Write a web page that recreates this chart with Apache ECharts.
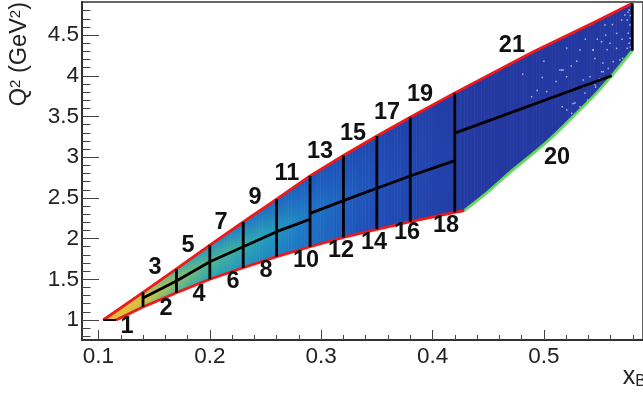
<!DOCTYPE html>
<html><head><meta charset="utf-8">
<style>html,body{margin:0;padding:0;background:#fff;overflow:hidden}#c{width:643px;height:394px}</style>
<script src="https://cdn.jsdelivr.net/npm/echarts@6/dist/echarts.min.js"></script>
</head><body><div id="c"></div>
<script>
const xMajor=[0.1,0.2,0.3,0.4,0.5];
const xMinor=[0.12,0.14,0.16,0.18,0.22,0.24,0.26,0.28,0.32,0.34,0.36,0.38,0.42,0.44,0.46,0.48,0.52,0.54,0.56,0.58];
const yMajor=[1,1.5,2,2.5,3,3.5,4,4.5];
const yMinor=[0.8,0.9,1.1,1.2,1.3,1.4,1.6,1.7,1.8,1.9,2.1,2.2,2.3,2.4,2.6,2.7,2.8,2.9,3.1,3.2,3.3,3.4,3.6,3.7,3.8,3.9,4.1,4.2,4.3,4.4,4.6,4.7,4.8];

// filled acceptance region: column positions, edges, and relative density at low / middle / high edge
const colX   =[0.1043,0.1158,0.14,0.17,0.2,0.23,0.26,0.29,0.32,0.35,0.38,0.42,0.4285,0.4501,0.4711,0.4905,0.501,0.5219,0.5429,0.5609,0.5794];
const colLow =[1,1,1.16,1.335,1.5,1.642,1.778,1.9,2.016,2.114,2.208,2.323,2.343,2.578,2.832,3.05,3.168,3.442,3.726,4.0,4.308];
const colHigh=[1,1.11,1.34,1.627,1.92,2.204,2.486,2.77,3.02,3.26,3.49,3.79,3.85,4.006,4.157,4.296,4.366,4.504,4.642,4.76,4.89];
const densLow=[0.95,0.92,0.74,0.55,0.42,0.36,0.3,0.23,0.16,0.11,0.07,0.03,0.01,0,0,0,0,0,0,0,0];
const densMid=[0.95,0.96,0.92,0.72,0.58,0.48,0.37,0.26,0.18,0.12,0.08,0.04,0.01,0,0,0,0,0,0,0,0];
const densHigh=[0.95,0.92,0.74,0.5,0.35,0.26,0.19,0.15,0.11,0.08,0.05,0.02,0.01,0,0,0,0,0,0,0,0];
const palette=[[0,'#2338a0'],[0.12,'#1f4fb8'],[0.27,'#1e79c8'],[0.42,'#26a3b8'],[0.58,'#50b78f'],[0.74,'#a6bf5c'],[0.9,'#e0c23e'],[1,'#eeb834']];

// empty bins at low statistics
const emptyBins=[[0.5766,4.808],[0.5772,4.624],[0.5766,4.399],[0.5748,4.337],[0.5683,4.194],[0.5623,4.173],[0.5533,4.051],[0.5443,4.317],[0.5458,4.214],[0.5264,4.522],[0.5414,4.624],[0.5548,4.624],[0.5653,4.522],[0.5698,4.685],[0.5727,4.747],[0.5593,4.399],[0.5518,4.419],[0.5144,4.071],[0.5204,3.989],[0.5354,3.948],[0.5324,4.317],[0.5414,3.989],[0.5707,4.214],[0.5757,4.522],[0.5748,4.685],[0.5653,4.337],[0.5295,3.54],[0.5519,4.05],[0.5172,4.07],[0.5025,3.805],[0.5441,4.317],[0.5205,3.58],[0.5262,3.66],[0.494,3.82],[0.5441,3.74],[0.535,3.86],[0.553,4.157],[0.489,4.28],
[0.5775,4.74],[0.5775,4.46],[0.5778,4.35],[0.5755,4.78],[0.5702,4.45],[0.5615,4.63],[0.5555,4.5],[0.548,4.45],[0.5372,4.45],[0.5295,4.18],[0.5245,4.12],[0.511,3.93],[0.5065,3.72],[0.5165,3.62],[0.5325,3.62],[0.5392,3.7],[0.5465,3.86],[0.5498,3.96],[0.5578,4.09],[0.5568,4.32],[0.5,4.18],[0.4985,3.98],[0.481,4.02],[0.5205,4.34],
[0.5279,3.666],[0.5369,3.789],[0.525,3.54],[0.5459,3.887],[0.489,3.743],[0.516,4.07]];

const upperRed=[[0.1043,1],[0.14,1.34],[0.17,1.627],[0.2,1.92],[0.23,2.204],[0.26,2.486],[0.29,2.77],[0.32,3.02],[0.35,3.26],[0.38,3.49],[0.42,3.79],[0.4905,4.296],[0.5444,4.652],[0.5794,4.89]];
const lowerRed=[[0.1158,1],[0.14,1.16],[0.17,1.335],[0.2,1.5],[0.23,1.642],[0.26,1.778],[0.29,1.9],[0.32,2.016],[0.35,2.114],[0.38,2.208],[0.42,2.323],[0.4285,2.343]];
const lowerGreen=[[0.4285,2.343],[0.4501,2.578],[0.4711,2.832],[0.501,3.168],[0.5219,3.442],[0.5429,3.726],[0.5609,4.0],[0.5794,4.308]];
const midA=[[0.14,1.27],[0.17,1.479],[0.2,1.716],[0.23,1.9],[0.26,2.085],[0.29,2.237]];
const midB=[[0.29,2.31],[0.32,2.466],[0.35,2.618],[0.38,2.769],[0.42,2.957]];
const midC=[[0.42,3.295],[0.5609,4.0]];
const baseLine=[[0.1043,1],[0.1158,1]];
const vLines=[[[0.14,1.16],[0.14,1.34]],[[0.17,1.335],[0.17,1.627]],[[0.2,1.5],[0.2,1.92]],[[0.23,1.642],[0.23,2.204]],[[0.26,1.778],[0.26,2.486]],[[0.29,1.9],[0.29,2.77]],[[0.32,2.016],[0.32,3.02]],[[0.35,2.114],[0.35,3.26]],[[0.38,2.208],[0.38,3.49]],[[0.42,2.323],[0.42,3.79]],[[0.5794,4.308],[0.5794,4.89]]];

const binNames=['1','2','3','4','5','6','7','8','9','10','11','12','13','14','15','16','17','18','19','20','21'];
const binX=[0.1256,0.1606,0.1507,0.1903,0.1804,0.2208,0.21,0.2504,0.2405,0.2864,0.2693,0.3178,0.2989,0.3474,0.3286,0.3771,0.3591,0.4121,0.3887,0.5118,0.4713];
const binQ=[0.926,1.135,1.639,1.307,1.909,1.467,2.192,1.602,2.499,1.725,2.794,1.848,3.064,1.958,3.297,2.069,3.543,2.155,3.776,3.002,4.366];

const FONT='"Liberation Sans",Arial,sans-serif', AXC='#333';
function lerp(a,b,t){return a+(b-a)*t;}
function densColor(d){
  for(let i=1;i<palette.length;i++){
    if(d<=palette[i][0]){
      const t=(d-palette[i-1][0])/(palette[i][0]-palette[i-1][0]);
      const h=s=>[1,3,5].map(k=>parseInt(s.substr(k,2),16));
      const a=h(palette[i-1][1]),b=h(palette[i][1]);
      return 'rgb('+a.map((v,k)=>Math.round(lerp(v,b[k],t))).join(',')+')';
    }
  }
  return palette[palette.length-1][1];
}
const lineSeries=(d,color,w)=>({type:'line',data:d,showSymbol:false,silent:true,lineStyle:{color:color,width:w,cap:'butt',join:'round'},z:3,animation:false,clip:false});

const fillData=colX.slice(0,-1).map((x,i)=>[x,colX[i+1],colLow[i],colLow[i+1],colHigh[i],colHigh[i+1],densLow[i],densLow[i+1],densMid[i],densMid[i+1],densHigh[i],densHigh[i+1]]);

const chart=echarts.init(document.getElementById('c'),null,{renderer:'canvas'});
chart.setOption({
  animation:false,
  backgroundColor:'#fff',
  grid:{left:82,top:2,width:561,height:338,outerBoundsMode:'none',containLabel:false,show:true,borderColor:AXC,borderWidth:1.5,backgroundColor:'transparent'},
  xAxis:[
    {type:'value',min:0.0852,max:0.589,position:'bottom',splitLine:{show:false},
     axisLine:{show:true,lineStyle:{color:AXC,width:2}},
     axisTick:{show:true,inside:true,length:10,customValues:xMajor,lineStyle:{color:'#444',width:1}},
     axisLabel:{show:true,customValues:xMajor,fontFamily:FONT,fontSize:22.5,color:'#222',margin:5,formatter:v=>String(v),hideOverlap:false,showMinLabel:true,showMaxLabel:true},
     name:'{x|x}{b|B}',nameLocation:'end',nameGap:0,
     nameTextStyle:{align:'right',verticalAlign:'top',padding:[24,-3,0,0],rich:{x:{fontFamily:FONT,fontSize:25,color:'#222'},b:{fontFamily:FONT,fontSize:16,color:'#222',verticalAlign:'bottom',padding:[10,0,0,0]}}}},
    {type:'value',min:0.0852,max:0.589,position:'bottom',splitLine:{show:false},axisLine:{show:false},
     axisTick:{show:true,inside:true,length:5,customValues:xMinor,lineStyle:{color:'#444',width:1}},axisLabel:{show:false}}
  ],
  yAxis:[
    {type:'value',min:0.7543,max:4.9066,position:'left',splitLine:{show:false},
     axisLine:{show:true,lineStyle:{color:AXC,width:2}},
     axisTick:{show:true,inside:true,length:17,customValues:yMajor,lineStyle:{color:'#444',width:1}},
     axisLabel:{show:true,customValues:yMajor,fontFamily:FONT,fontSize:22.5,color:'#222',margin:3,formatter:v=>String(v),hideOverlap:false},
     name:'Q{s|2} (GeV{s|2})',nameLocation:'end',nameRotate:90,nameGap:0,
     nameTextStyle:{align:'right',verticalAlign:'bottom',padding:[0,0,50,0],fontFamily:FONT,fontSize:23.5,color:'#222',rich:{s:{fontFamily:FONT,fontSize:15,color:'#222',verticalAlign:'top'}}}},
    {type:'value',min:0.7543,max:4.9066,position:'left',splitLine:{show:false},axisLine:{show:false},
     axisTick:{show:true,inside:true,length:8.5,customValues:yMinor,lineStyle:{color:'#444',width:1}},axisLabel:{show:false}}
  ],
  series:[
    {type:'custom',data:fillData,silent:true,z:1,clip:true,encode:{x:[0,1],y:[2,3,4,5]},
     renderItem:function(p,api){
       const v=k=>api.value(k);
       const pA=api.coord([v(0),v(2)]),pB=api.coord([v(1),v(3)]);
       const n=Math.max(1,Math.ceil((pB[0]-pA[0])/1.5));
       const kids=[];
       for(let s=0;s<n;s++){
         const t0=s/n,t1=(s+1)/n,tm=(t0+t1)/2;
         const x0=lerp(v(0),v(1),t0),x1=lerp(v(0),v(1),t1);
         const l0=lerp(v(2),v(3),t0),l1=lerp(v(2),v(3),t1);
         const h0=lerp(v(4),v(5),t0),h1=lerp(v(4),v(5),t1);
         const a=api.coord([x0,l0]),b=api.coord([x1,l1]),c=api.coord([x1,h1]),d=api.coord([x0,h0]);
         if(Math.abs(a[1]-d[1])<0.1&&Math.abs(b[1]-c[1])<0.1)continue;
         const dl=lerp(v(6),v(7),tm),dm=lerp(v(8),v(9),tm),dh=lerp(v(10),v(11),tm);
         const top=Math.min(c[1],d[1]),bot=Math.max(a[1],b[1]);
         kids.push({type:'polygon',shape:{points:[[a[0],a[1]],[b[0]+0.6,b[1]],[c[0]+0.6,c[1]],[d[0],d[1]]]},
           style:{fill:new echarts.graphic.LinearGradient(0,bot,0,top,[{offset:0,color:densColor(dl)},{offset:0.5,color:densColor(dm)},{offset:1,color:densColor(dh)}],true),stroke:null}});
       }
       return {type:'group',children:kids};
     }},
    {type:'scatter',data:emptyBins,symbol:'rect',symbolSize:1.5,itemStyle:{color:'#cfd8f0'},silent:true,z:2,animation:false},
    Object.assign(lineSeries(lowerGreen,'#66d95a',2.8),{smooth:0.3}),
    lineSeries(upperRed,'#f01818',2.8),
    lineSeries(lowerRed,'#f01818',2.8),
    lineSeries(midA,'#000',2.8),
    lineSeries(midB,'#000',2.8),
    lineSeries(midC,'#000',2.8),
    lineSeries(baseLine,'#000',2),
    ...vLines.map(d=>lineSeries(d,'#000',2.8)),
    {type:'custom',data:binNames.map((n,i)=>[binX[i],binQ[i],n]),silent:true,z:5,clip:false,encode:{x:0,y:1},
     renderItem:function(p,api){
       const c=api.coord([api.value(0),api.value(1)]);
       return {type:'text',x:c[0],y:c[1],style:{text:binNames[p.dataIndex],fontFamily:FONT,fontWeight:'bold',fontSize:23.5,fill:'#111',align:'center',verticalAlign:'middle'}};
     }}
  ]
});
</script></body></html>
